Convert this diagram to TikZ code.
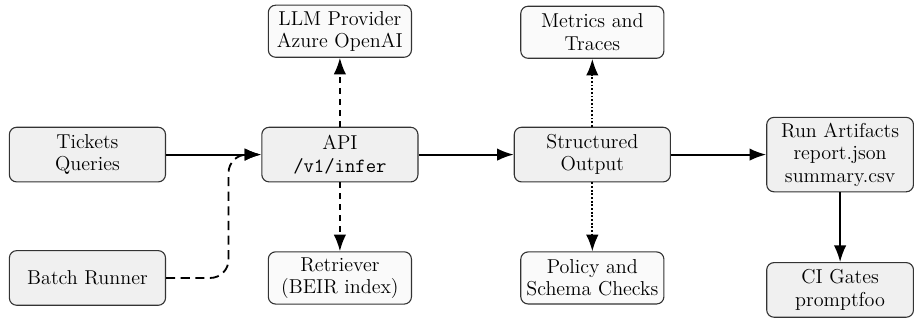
\documentclass[tikz,border=0pt]{standalone}
\usetikzlibrary{arrows.meta}

\tikzset{
  box/.style={draw=black!80, line width=0.6pt, rounded corners=4pt,
    align=center, inner sep=3pt, font=\fontsize{11}{12.3}\selectfont},
  mainbox/.style={box, fill=black!6, minimum width=3cm, minimum height=1.05cm},
  sidebox/.style={box, fill=black!2, minimum width=2.75cm, minimum height=1cm},
  flow/.style={line width=1pt, -{Latex[length=3.2mm,width=2.4mm]}},
}

\begin{document}
\begin{tikzpicture}
    \useasboundingbox (0,0) rectangle (17.56,6.15);

      \begin{scope}[every node/.style={mainbox}]
        \node (tick)  at (1.68,3.18)  {Tickets\\Queries};
        \node (batch) at (1.68,0.81)  {Batch Runner};
        \node (api)   at (6.53,3.18)  {API\\\texttt{/v1/infer}};
        \node (out)   at (11.38,3.18) {Structured\\Output};
        \node[minimum width=2.82cm] (run) at (16.14,3.18) {Run Artifacts\\report.json\\summary.csv};
        \node[minimum width=2.82cm] (ci)  at (16.14,0.58) {CI Gates\\promptfoo};
      \end{scope}

      \begin{scope}[every node/.style={sidebox}]
        \node (llm) at (6.53,5.55)  {LLM Provider\\Azure OpenAI};
        \node (ret) at (6.53,0.81)  {Retriever\\(BEIR index)};
        \node (met) at (11.38,5.53) {Metrics and\\Traces};
        \node (pol) at (11.38,0.81) {Policy and\\Schema Checks};
      \end{scope}

      \begin{scope}[every edge/.style={draw, flow}]
        \path (tick) edge (api);
        \path (api)  edge (out);
        \path (out)  edge (run);
        \path (run)  edge (ci);
        \path (api)  edge[dashed] (llm);
        \path (api)  edge[dashed] (ret);
        \path (out)  edge[densely dotted] (met);
        \path (out)  edge[densely dotted] (pol);
      \end{scope}

      \draw[flow, dash pattern=on 5pt off 3pt, rounded corners=10pt]
        (batch.east) -- ++(1.2,0) |- (api.west);

    \end{tikzpicture}
\end{document}
